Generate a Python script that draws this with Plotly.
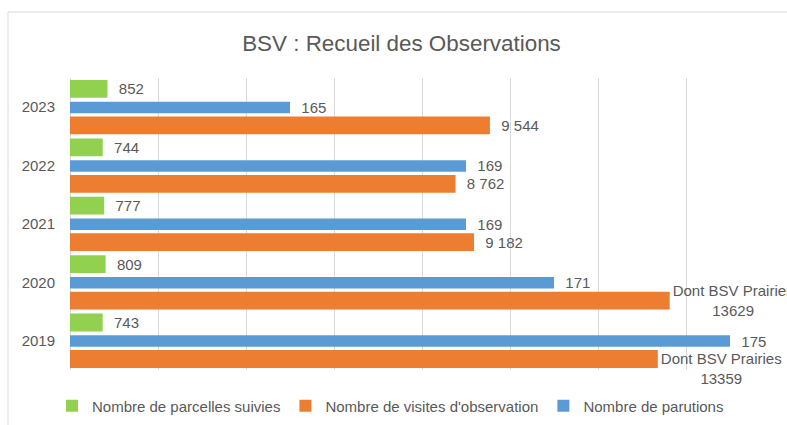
import plotly.graph_objects as go

years = ["2019", "2020", "2021", "2022", "2023"]
parcelles = [743, 809, 777, 744, 852]
visites = [13359, 13629, 9182, 8762, 9544]
visites_notes = ["Dont BSV Prairies", "Dont BSV Prairies", "", "", ""]
parutions = [175, 171, 169, 169, 165]

names = ["Nombre de parcelles suivies", "Nombre de visites d'observation", "Nombre de parutions"]
GREEN, ORANGE, BLUE = "#92D050", "#ED7D31", "#5B9BD5"
TXT = "#595959"
FONT = "Liberation Sans, Arial, sans-serif"
NB = "\u00a0"


def fmt(v):
    return f"{v:,}".replace(",", NB)


parc_text = [NB * 2 + str(v) for v in parcelles]
par_text = [NB * 2 + str(v) for v in parutions]
vis_text = []
for i, (n, v) in enumerate(zip(visites_notes, visites)):
    if n:
        # the lowest label is pushed down one line so it clears the "175" label above it
        vis_text.append((NB + "<br>" if i == 0 else "") + f"{n}<br>{v}")
    else:
        vis_text.append(NB * 2 + fmt(v))

fig = go.Figure()
common = dict(orientation="h", textposition="outside", cliponaxis=False, constraintext="none",
              textfont=dict(family=FONT, size=15, color=TXT), marker_line_width=0)
fig.add_trace(go.Bar(y=years, x=parcelles, name=names[0], marker_color=GREEN, text=parc_text,
                     offset=0.161, width=0.305, xaxis="x", **common))
fig.add_trace(go.Bar(y=years, x=visites, name=names[1], marker_color=ORANGE, text=vis_text,
                     offset=-0.464, width=0.305, xaxis="x", **common))
fig.add_trace(go.Bar(y=years, x=parutions, name=names[2], marker_color=BLUE, text=par_text,
                     offset=-0.104, width=0.197, xaxis="x2", **common))

fig.update_layout(
    width=787, height=425,
    barmode="overlay",
    paper_bgcolor="white", plot_bgcolor="white",
    margin=dict(l=70, r=13, t=78, b=55, autoexpand=False),
    font=dict(family=FONT, size=15, color=TXT),
    title=dict(text="BSV : Recueil des Observations", x=401.5 / 787, xref="container", xanchor="center",
               y=1 - 43 / 425, yref="container", yanchor="middle",
               font=dict(family=FONT, size=22.4, color=TXT)),
    xaxis=dict(range=[0, 16000], dtick=2000, showticklabels=False, showgrid=True, gridcolor="#D9D9D9",
               gridwidth=1, zeroline=True, zerolinecolor="#D9D9D9", zerolinewidth=1, fixedrange=True),
    xaxis2=dict(range=[160, 176], overlaying="x", side="top", visible=False, showgrid=False),
    yaxis=dict(type="category", showgrid=False, zeroline=False, ticks="", ticklabelstandoff=14,
               tickfont=dict(family=FONT, size=15, color=TXT)),
    legend=dict(orientation="h", xref="container", yref="container", x=52 / 787, xanchor="left",
                y=1 - 406 / 425, yanchor="middle", font=dict(family=FONT, size=15, color=TXT),
                bgcolor="rgba(0,0,0,0)"),
    showlegend=True,
    shapes=[dict(type="rect", xref="paper", yref="paper", x0=(8 - 70) / 704, x1=1.2,
                 y0=-0.5, y1=(370 - 12) / 292, line=dict(color="#D9D9D9", width=1),
                 fillcolor="rgba(0,0,0,0)", layer="below")],
)

fig.write_html("out.html", config={"displayModeBar": False},
               post_script="document.body.style.margin='0';")
